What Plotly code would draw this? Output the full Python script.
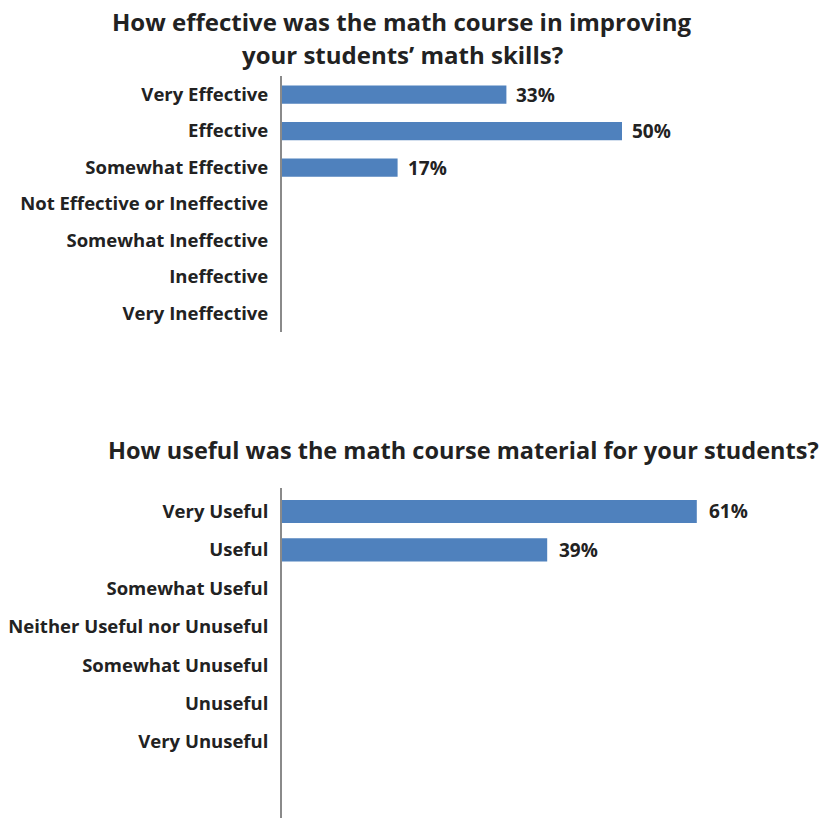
import plotly.graph_objects as go

W, H = 830, 818

# ---- data ----
effect_categories = ["Very Effective", "Effective", "Somewhat Effective",
                     "Not Effective or Ineffective", "Somewhat Ineffective",
                     "Ineffective", "Very Ineffective"]
effect_values = [33, 50, 17, None, None, None, None]

useful_categories = ["Very Useful", "Useful", "Somewhat Useful",
                     "Neither Useful nor Unuseful", "Somewhat Unuseful",
                     "Unuseful", "Very Unuseful"]
useful_values = [61, 39, None, None, None, None, None]

title_top_1 = "How effective was the math course in improving"
title_top_2 = "your students’ math skills?"
title_bottom = "How useful was the math course material for your students?"

BAR = "#4F81BD"
TXT = "#222222"
FONT = "Open Sans"


def px_x(p):
    return p / W


def px_y(p):
    return 1 - p / H


fig = go.Figure()

fig.add_trace(go.Bar(
    x=effect_values, y=effect_categories, orientation="h",
    marker=dict(color=BAR, line=dict(width=0)), width=0.5,
    xaxis="x", yaxis="y", hoverinfo="skip", showlegend=False))

fig.add_trace(go.Bar(
    x=useful_values, y=useful_categories, orientation="h",
    marker=dict(color=BAR, line=dict(width=0)), width=0.6,
    xaxis="x2", yaxis="y2", hoverinfo="skip", showlegend=False))

anns = []
for c, v in zip(effect_categories, effect_values):
    if v is not None:
        anns.append(dict(x=v, y=c, xref="x", yref="y", text=f"<b>{v}%</b>",
                         showarrow=False, xanchor="left", xshift=8,
                         font=dict(family=FONT, size=19, color=TXT)))
for c, v in zip(useful_categories, useful_values):
    if v is not None:
        anns.append(dict(x=v, y=c, xref="x2", yref="y2", text=f"<b>{v}%</b>",
                         showarrow=False, xanchor="left", xshift=10,
                         font=dict(family=FONT, size=19, color=TXT)))

for txt, yy, cx, fs in [(title_top_1, 22, 402, 24), (title_top_2, 55, 402, 24),
                        (title_bottom, 450, 463, 23.5)]:
    anns.append(dict(x=px_x(cx), y=px_y(yy), xref="paper", yref="paper",
                     text=f"<b>{txt}</b>", showarrow=False,
                     xanchor="center", yanchor="middle", align="center",
                     font=dict(family=FONT, size=fs, color=TXT)))

x0 = px_x(282)
x1 = px_x(282 + 80 * 6.8)

common_x = dict(range=[0, 80], showgrid=False, zeroline=False, showline=False,
                showticklabels=False, ticks="", fixedrange=True)
common_y = dict(type="category", showgrid=False, zeroline=False,
                showline=True, linecolor="#8a8a8a", linewidth=2,
                ticks="", ticklabelstandoff=8, automargin=False,
                fixedrange=True,
                tickfont=dict(family=FONT, size=18.5, color=TXT, weight="bold"))

fig.update_layout(
    width=W, height=H,
    margin=dict(l=0, r=0, t=0, b=0),
    paper_bgcolor="white", plot_bgcolor="white",
    xaxis=dict(domain=[x0, min(x1, 1)], anchor="y", **common_x),
    yaxis=dict(domain=[px_y(331.75), px_y(76.25)], anchor="x",
               range=[6.5, -0.5], **common_y),
    xaxis2=dict(domain=[x0, min(x1, 1)], anchor="y2", **common_x),
    yaxis2=dict(domain=[0, px_y(488)], anchor="x2",
                range=[7.98, -0.61], **common_y),
    annotations=anns,
)

fig.write_html("out.html", config={"displayModeBar": False},
               post_script="document.body.style.margin='0px';")
